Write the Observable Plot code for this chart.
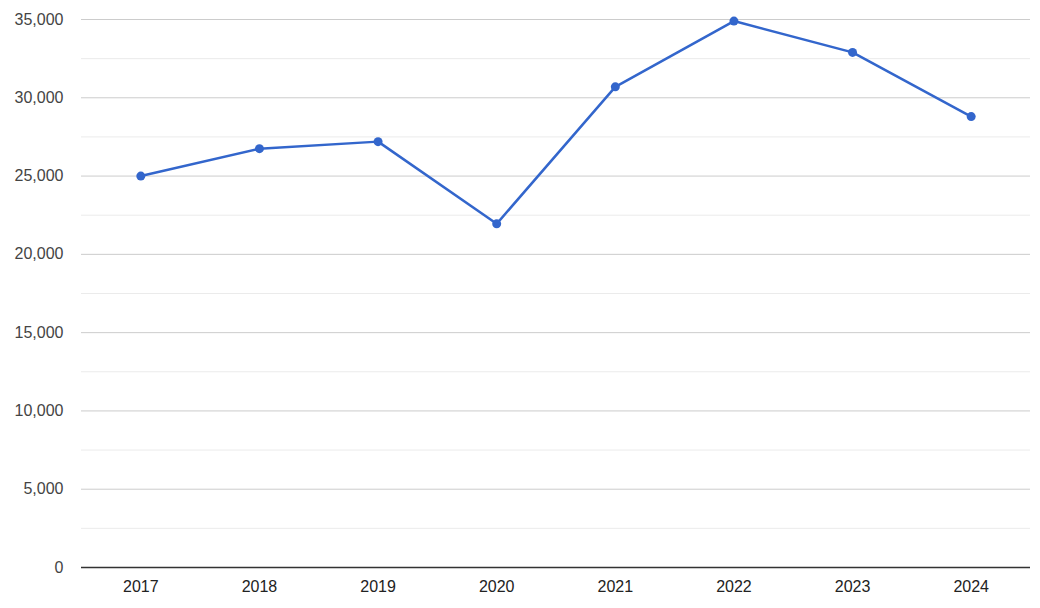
<!DOCTYPE html>
<html>
<head>
<meta charset="utf-8">
<script src="https://cdn.jsdelivr.net/npm/d3@7"></script>
<script src="https://cdn.jsdelivr.net/npm/@observablehq/plot@0.6"></script>
<style>
  html, body { margin: 0; padding: 0; background: #fff; }
  #chart { width: 1040px; height: 608px; }
</style>
</head>
<body>
<div id="chart"></div>
<script>
const years = ["2017", "2018", "2019", "2020", "2021", "2022", "2023", "2024"];
const values = [25000, 26750, 27200, 21950, 30700, 34900, 32900, 28800];
const majorTicks = [0, 5000, 10000, 15000, 20000, 25000, 30000, 35000];
const minorTicks = [2500, 7500, 12500, 17500, 22500, 27500, 32500];

const data = years.map((y, i) => ({year: y, value: values[i]}));

const chart = Plot.plot({
  width: 1040,
  height: 608,
  marginLeft: 81,
  marginRight: 10,
  marginTop: 19,
  marginBottom: 41,
  style: {fontFamily: "'Liberation Sans', Arial, sans-serif", fontSize: "16px", background: "#fff"},
  x: {type: "point", domain: years, padding: 0.5, round: false, label: null, tickSize: 0, tickPadding: 13},
  y: {domain: [0, 35000], label: null, ticks: majorTicks, tickSize: 0, tickPadding: 18, tickFormat: d3.format(",")},
  marks: [
    Plot.ruleY(minorTicks, {stroke: "#ebebeb", strokeWidth: 1}),
    Plot.ruleY(majorTicks.filter(d => d > 0), {stroke: "#cccccc", strokeWidth: 1}),
    Plot.ruleY([0], {stroke: "#333333", strokeWidth: 1.5}),
    Plot.line(data, {x: "year", y: "value", stroke: "#3366cc", strokeWidth: 2.5}),
    Plot.dot(data, {x: "year", y: "value", fill: "#3366cc", r: 4.5})
  ]
});
chart.querySelectorAll("[aria-label='y-axis tick label'] text").forEach(t => t.setAttribute("fill", "#444"));
chart.querySelectorAll("[aria-label='x-axis tick label'] text").forEach(t => t.setAttribute("fill", "#222"));
document.getElementById("chart").appendChild(chart);
</script>
</body>
</html>
